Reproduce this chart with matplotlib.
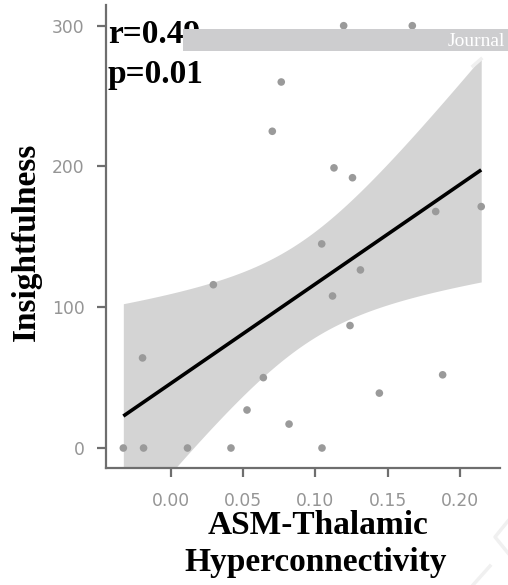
import numpy as np
import matplotlib
matplotlib.use("Agg")
import matplotlib.pyplot as plt
from matplotlib.lines import Line2D
from matplotlib.patches import Rectangle

# ASM-thalamic hyperconnectivity vs. insightfulness score
connectivity = [-0.033, -0.019, -0.0197, 0.0114, 0.0415, 0.0293, 0.0526, 0.0639,
                0.0701, 0.0763, 0.0817, 0.1045, 0.1043, 0.1118, 0.1128, 0.1195,
                0.1239, 0.1256, 0.1311, 0.1442, 0.167, 0.1832, 0.188, 0.2147]
insightfulness = [0, 0, 64, 0, 0, 116, 27, 50,
                  225, 260, 17, 0, 145, 108, 199, 300,
                  87, 192, 126.5, 39, 300, 168, 52, 171.5]

x_ticks = [0.00, 0.05, 0.10, 0.15, 0.20]
x_tick_labels = ["0.00", "0.05", "0.10", "0.15", "0.20"]
y_ticks = [0, 100, 200, 300]
y_tick_labels = ["0", "100", "200", "300"]
stat_lines = ["r=0.49", "p=0.01"]
x_label_lines = ["ASM-Thalamic", "Hyperconnectivity"]

x = np.asarray(connectivity)
y = np.asarray(insightfulness)

# ordinary least squares fit with a 95% confidence band
n = len(x)
slope, intercept = np.polyfit(x, y, 1)
resid = y - (intercept + slope * x)
s = np.sqrt(np.sum(resid ** 2) / (n - 2))
sxx = np.sum((x - x.mean()) ** 2)
t_crit = 2.074  # two-sided 95%, df = 22
xs = np.linspace(x.min(), x.max(), 200)
fit = intercept + slope * xs
half = t_crit * s * np.sqrt(1.0 / n + (xs - x.mean()) ** 2 / sxx)

W, H = 508, 585
fig = plt.figure(figsize=(W / 100, H / 100), dpi=100)
ax = fig.add_axes([106 / W, 117 / H, 394 / W, 463 / H])

ax.fill_between(xs, fit - half, fit + half, color="#d4d4d4", lw=0, zorder=1)
ax.scatter(x, y, s=30, color="#9a9a9a", edgecolors="none", zorder=2)
ax.plot(xs, fit, color="black", lw=2.6, solid_capstyle="butt", zorder=3)

ax.set_xlim(-0.045, 0.2277)
ax.set_ylim(-14.2, 314.7)
ax.set_xticks(x_ticks)
ax.set_xticklabels(x_tick_labels)
ax.set_yticks(y_ticks)
ax.set_yticklabels(y_tick_labels)

for side in ("top", "right"):
    ax.spines[side].set_visible(False)
for side in ("left", "bottom"):
    ax.spines[side].set_color("#6e6e6e")
    ax.spines[side].set_linewidth(1.6)
ax.tick_params(axis="both", colors="#6e6e6e", length=6.5, width=1.6,
               labelsize=12.3, labelcolor="#959595")
ax.tick_params(axis="y", pad=9)
ax.tick_params(axis="x", pad=10.5)

serif = ["Liberation Serif", "DejaVu Serif"]


def fig_y(py):
    return 1 - py / H


# correlation statistics, drawn inside the axes (under the banner)
ax.text(108 / W, fig_y(43), stat_lines[0], transform=fig.transFigure, ha="left",
        va="baseline", fontsize=24, fontweight="bold", family=serif, zorder=5)
ax.text(108 / W, fig_y(83), stat_lines[1], transform=fig.transFigure, ha="left",
        va="baseline", fontsize=24, fontweight="bold", family=serif, zorder=5)

fig.text(318 / W, fig_y(534), x_label_lines[0], ha="center", va="baseline",
         fontsize=24, fontweight="bold", family=serif)
fig.text(316 / W, fig_y(571), x_label_lines[1], ha="center", va="baseline",
         fontsize=24, fontweight="bold", family=serif)
fig.text(26 / W, fig_y(242), "Insightfulness", rotation=90, ha="center",
         va="center", fontsize=24, fontweight="bold", family=serif)

# banner across the top
fig.add_artist(Rectangle((183 / W, fig_y(51)), 325 / W, 22 / H,
                         transform=fig.transFigure, facecolor="#cdcdcf",
                         edgecolor="none", zorder=10))
fig.text(505 / W, fig_y(46), "Journal", ha="right", va="baseline",
         color="white", fontsize=14, family=serif, zorder=11)

# faint diagonal strokes along the right edge
for xs_px, ys_px in [((508, 495, 508), (521, 537, 553)),
                     ((473, 490), (585, 566)),
                     ((473, 481), (66, 59))]:
    fig.add_artist(Line2D([v / W for v in xs_px], [fig_y(v) for v in ys_px],
                          transform=fig.transFigure, color="#f0f0f0", lw=2.5))

fig.savefig("out.png", dpi=100)
